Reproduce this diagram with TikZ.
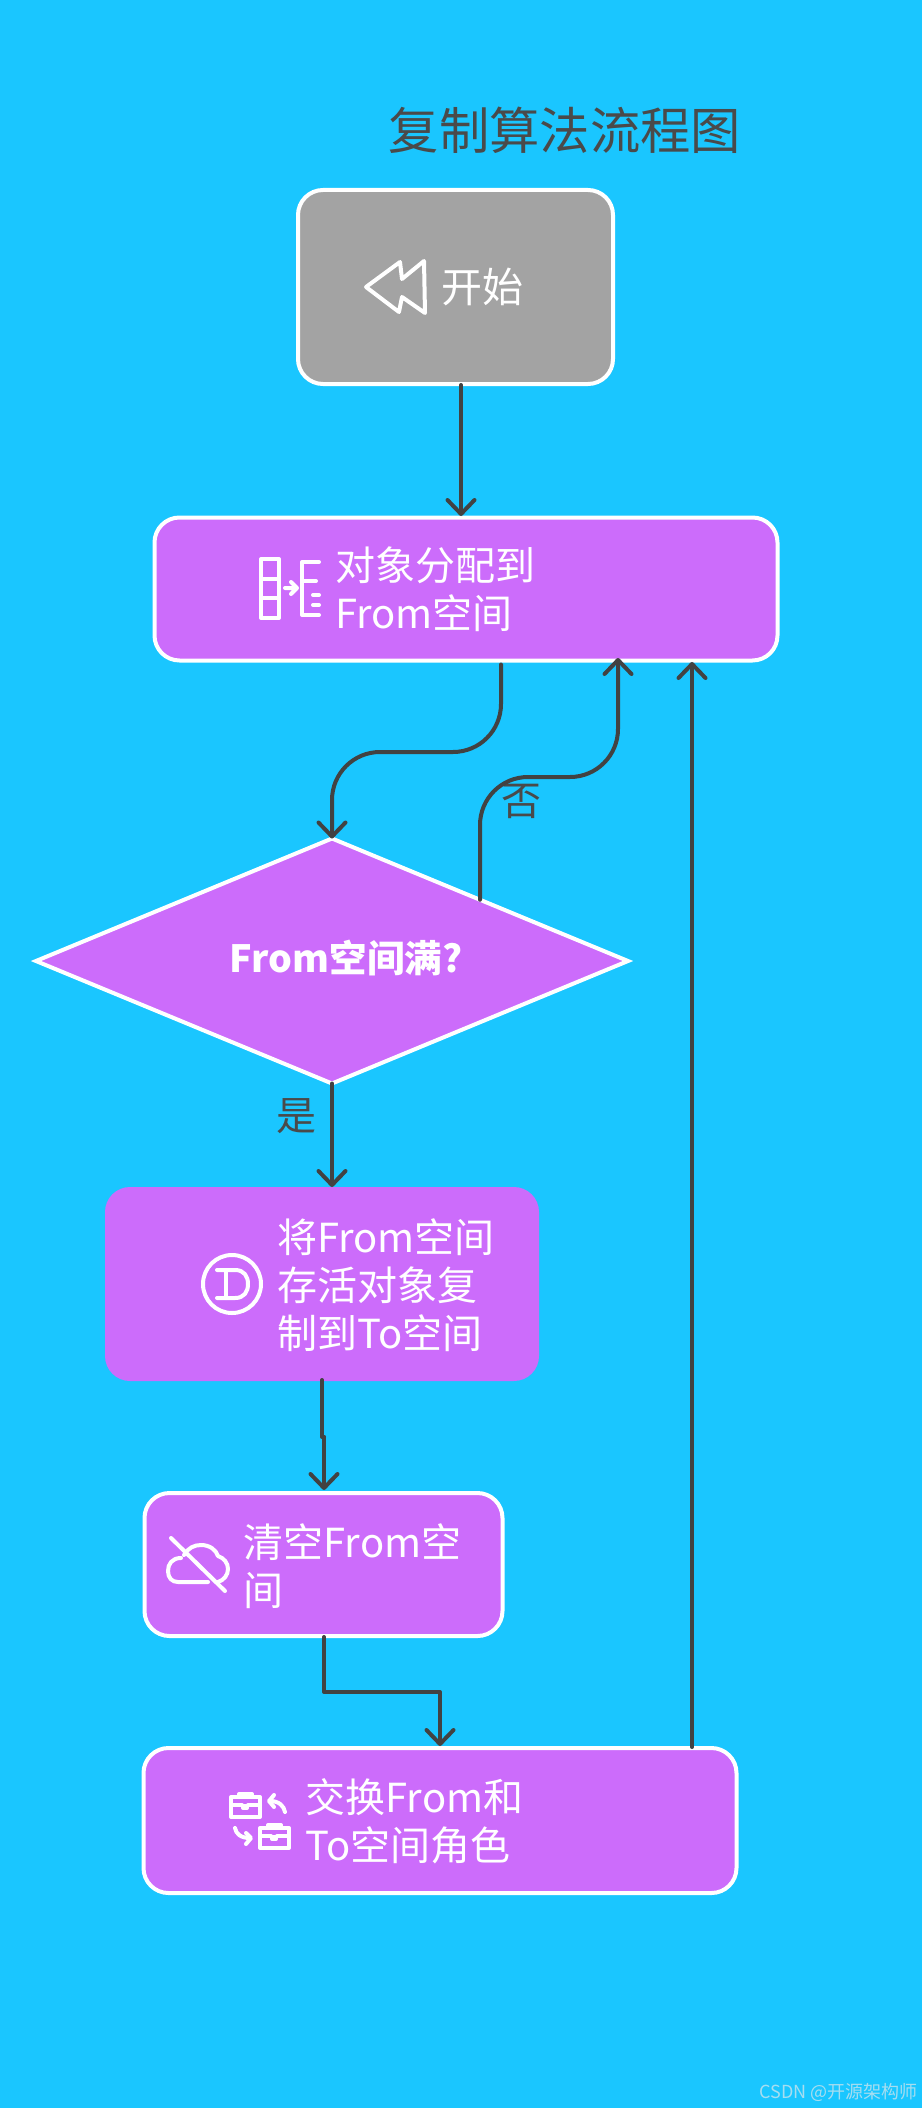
\documentclass[tikz,border=0pt]{standalone}
\usepackage{fontspec}
\setmainfont{Noto Sans CJK SC}
\usetikzlibrary{arrows.meta,shapes.geometric}
\definecolor{bgblue}{HTML}{1AC6FF}
\definecolor{boxpurple}{HTML}{CC6CFB}
\definecolor{boxgray}{HTML}{A3A3A3}
\definecolor{inkgray}{HTML}{424242}
\definecolor{titlegray}{HTML}{4A4A4A}
\definecolor{markblue}{HTML}{A6DDF0}
\tikzset{
  flowbox/.style={rectangle,rounded corners=25pt,draw=white,line width=4pt,fill=boxpurple,inner sep=0pt,outer sep=0pt},
  plainbox/.style={flowbox,draw=none},
  startbox/.style={flowbox,fill=boxgray},
  decision/.style={diamond,draw=white,line width=4pt,fill=boxpurple,inner sep=0pt,outer sep=0pt},
  boxtext/.style={text=white,anchor=west,align=left,inner sep=0pt,font=\fontsize{40}{48}\selectfont},
  edgetext/.style={text=titlegray,inner sep=0pt,font=\fontsize{40}{46}\selectfont},
  link/.style={draw=inkgray,line width=4pt,line cap=round,line join=round,-{Straight Barb[length=14pt,width=27pt,round]}},
  icon/.style={draw=white,line width=4pt,line cap=round,line join=round},
}
\begin{document}
\begin{tikzpicture}[x=1pt,y=-1pt]
\useasboundingbox (0,0) rectangle (922,2108);
\fill[bgblue] (0,0) rectangle (922,2108);

\node[text=titlegray,inner sep=0pt,font=\fontsize{50.3}{56}\selectfont] (title) at (565,130) {复制算法流程图};

\node[startbox,minimum width=315pt,minimum height=194pt] (start) at (455.5,287) {};
\node[flowbox,minimum width=623pt,minimum height=143pt] (alloc) at (466,589) {};
\node[decision,minimum width=592pt,minimum height=245pt,aspect=2.416] (full) at (332,961) {};
\node[plainbox,minimum width=434pt,minimum height=194pt] (copy) at (322,1284) {};
\node[flowbox,minimum width=358pt,minimum height=143pt] (clear) at (323.5,1564.5) {};
\node[flowbox,minimum width=593pt,minimum height=145pt] (swap) at (440,1820.5) {};

\node[boxtext,font=\fontsize{41}{48}\selectfont] (starttext) at (441,287) {开始};
\node[boxtext] (alloctext) at (335,589) {对象分配到\\From空间};
\node[text=white,inner sep=0pt,font=\fontsize{37.5}{48}\selectfont\bfseries] (fulltext) at (346,958) {From空间满?};
\node[boxtext] (copytext) at (277,1285) {将From空间\\存活对象复\\制到To空间};
\node[boxtext] (cleartext) at (243.5,1566) {清空From空\\间};
\node[boxtext] (swaptext) at (305.5,1821) {交换From和\\To空间角色};

\node[edgetext] (notext) at (521,801) {否};
\node[edgetext] (yestext) at (296,1116) {是};

\node[text=markblue,anchor=east,inner sep=0pt,font=\fontsize{18}{22}\selectfont] (mark) at (918,2092) {CSDN @开源架构师};

% connectors
\coordinate (allocout) at ([xshift=35pt,yshift=-4pt]alloc.south);
\coordinate (m1) at (332,752);
\coordinate (m2) at (618,777);
\coordinate (allocin) at (618,658);
\coordinate (allocin2) at (692,662);
\coordinate (swapout) at (692,1747);
\coordinate (copyout) at (322,1380);
\coordinate (j1) at (322,1437);
\coordinate (j2) at (324,1437);
\coordinate (clearin) at (324,1490);
\coordinate (clearout) at (324,1637);
\coordinate (m3) at (440,1692);
\coordinate (swapin) at (440,1746);
\coordinate (startout) at (461,385);
\coordinate (allocin0) at (461,516);
\coordinate (copyin) at (332,1187);

\draw[link] (startout) -- (allocin0);
\draw[link,rounded corners=48pt] (allocout) |- (m1) -- (full.north);
\draw[link,rounded corners=48pt] (full.north east) |- (m2) -- (allocin);
\draw[link] (full.south) -- (copyin);
\draw[line cap=round,line join=round,draw=inkgray,line width=4pt] (copyout) -- (j1) -- (j2);
\draw[link] (j2) -- (clearin);
\draw[link] (clearout) |- (m3) -- (swapin);
\draw[link] (swapout) -- (allocin2);

% start icon
\draw[icon] (366,287) -- (400,262) -- (402,279) -- (424,261) -- (425,313) -- (402,297) -- (399,312) -- cycle;

% alloc icon
\draw[icon] (261,559) rectangle (279,618);
\draw[icon] (261,579) -- (279,579) (261,598) -- (279,598);
\draw[icon] (285,588) -- (296,588) (291,582) -- (297,588) -- (291,594);
\draw[icon] (319,562) -- (302,562) -- (302,615) -- (319,615);
\draw[icon] (302,581) -- (316,581);
\draw[icon] (313,595) -- (319,595) (313,605) -- (319,605);

% copy icon
\draw[icon] (232,1284) circle (29);
\draw[icon] (217,1270) -- (235,1270) .. controls (244,1270) and (248,1276) .. (248,1284) .. controls (248,1292) and (244,1298) .. (235,1298) -- (217,1298);
\draw[icon] (226,1270) -- (226,1298);

% clear icon
\draw[icon] (171,1538) -- (225,1591);
\draw[icon] (181,1558) .. controls (172,1558) and (168,1564) .. (168,1571) .. controls (168,1578) and (172,1582) .. (178,1582) -- (208,1582);
\draw[icon] (184,1555) .. controls (188,1548) and (194,1545) .. (201,1545) .. controls (210,1545) and (216,1550) .. (218,1556) .. controls (224,1558) and (228,1563) .. (228,1569) .. controls (228,1575) and (224,1580) .. (218,1582);

% swap icon
\draw[icon] (231,1797) rectangle (260,1817);
\draw[icon] (239,1797) -- (239,1794) -- (252,1794) -- (252,1797);
\draw[icon] (231,1805) -- (242,1805) (248,1805) -- (260,1805);
\draw[icon] (243,1806) rectangle (247,1808);
\draw[icon] (260,1828) rectangle (289,1848);
\draw[icon] (268,1828) -- (268,1825) -- (281,1825) -- (281,1828);
\draw[icon] (260,1836) -- (271,1836) (277,1836) -- (289,1836);
\draw[icon] (272,1837) rectangle (276,1839);
\draw[icon] (285,1812) .. controls (284,1806) and (279,1801) .. (270,1801);
\draw[icon] (274,1795) -- (269,1801) -- (274,1807);
\draw[icon] (235,1828) .. controls (236,1834) and (241,1838) .. (250,1838);
\draw[icon] (246,1833) -- (251,1838) -- (246,1844);
\end{tikzpicture}
\end{document}
